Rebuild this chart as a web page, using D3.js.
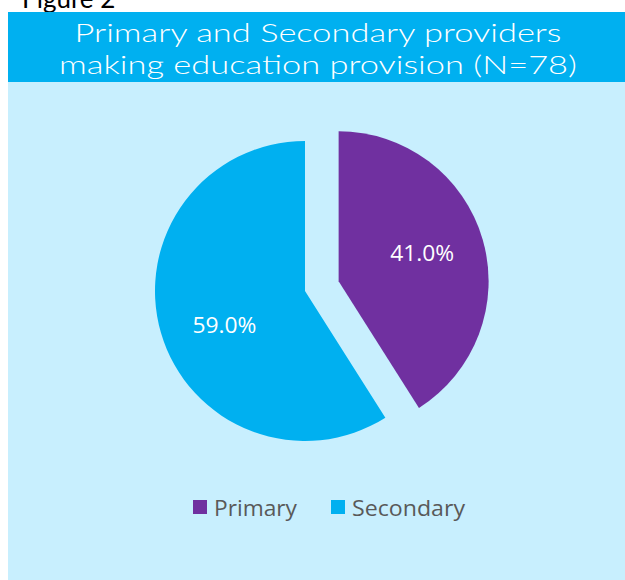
<!DOCTYPE html>
<html><head><meta charset="utf-8">
<script src="https://cdn.jsdelivr.net/npm/d3@7"></script>
<style>body{margin:0;background:#fff;overflow:hidden}</style>
</head><body>
<svg id="c" width="625" height="580"></svg>
<script>
const categories = ["Primary", "Secondary"];
const values = [41.0, 59.0];
const colors = ["#7030A0", "#00B0F0"];
const titleLines = ["Primary and Secondary providers", "making education provision (N=78)"];

const svg = d3.select("#c");
svg.append("text").attr("x", 22).attr("y", 8).attr("font-family", "Lato, 'Open Sans', sans-serif")
  .attr("font-size", 26).attr("fill", "#000").text("Figure 2");
svg.append("rect").attr("x", 8).attr("y", 82).attr("width", 617).attr("height", 498).attr("fill", "#C8EFFE");
svg.append("rect").attr("x", 8).attr("y", 12).attr("width", 617).attr("height", 70).attr("fill", "#00B0F0");
const titleW = [487, 518];
titleLines.forEach((t, i) => {
  svg.append("text").attr("x", 318).attr("y", 42 + i * 32).attr("text-anchor", "middle")
    .attr("font-family", "Lato, 'Open Sans', sans-serif").attr("font-weight", 300)
    .attr("font-size", 26).attr("fill", "#fff")
    .attr("textLength", titleW[i]).attr("lengthAdjust", "spacingAndGlyphs").text(t);
});

const cx = 305, cy = 291, R = 150, explode = [35, 0];
const pie = d3.pie().sort(null).value(d => d)(values);
const arc = d3.arc().innerRadius(0).outerRadius(R);
const g = svg.append("g").attr("transform", `translate(${cx},${cy})`);
pie.forEach((p, i) => {
  const mid = (p.startAngle + p.endAngle) / 2;
  const ox = Math.sin(mid) * explode[i], oy = -Math.cos(mid) * explode[i];
  const gg = g.append("g").attr("transform", `translate(${ox},${oy})`);
  gg.append("path").attr("d", arc(p)).attr("fill", colors[i]);
  const lr = R * 0.58;
  gg.append("text").attr("x", Math.sin(mid) * lr + (i ? 3 : 0)).attr("y", -Math.cos(mid) * lr + (i ? 10 : -3))
    .attr("text-anchor", "middle").attr("dy", "0.35em")
    .attr("font-family", "'Open Sans', 'Noto Sans', sans-serif").attr("font-size", 21)
    .attr("fill", "#fff").attr("textLength", 64).attr("lengthAdjust", "spacingAndGlyphs")
    .text(values[i].toFixed(1) + "%");
});

const legX = [193, 331];
const legW = [83, 113];
categories.forEach((c, i) => {
  svg.append("rect").attr("x", legX[i]).attr("y", 500).attr("width", 14).attr("height", 14).attr("fill", colors[i]);
  svg.append("text").attr("x", legX[i] + 21).attr("y", 516)
    .attr("font-family", "'Open Sans', 'Noto Sans', sans-serif").attr("font-size", 22)
    .attr("fill", "#595959").attr("textLength", legW[i]).attr("lengthAdjust", "spacingAndGlyphs").text(c);
});
</script>
</body></html>
